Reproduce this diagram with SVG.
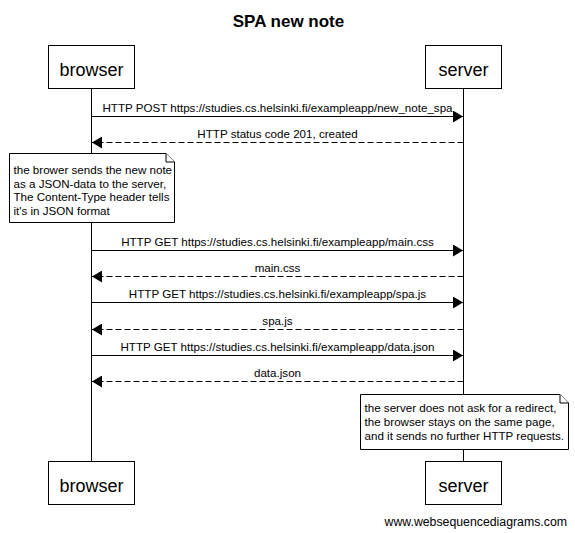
<svg xmlns="http://www.w3.org/2000/svg" width="575" height="533" viewBox="0 0 575 533">
<style>
text{font-family:"Liberation Sans",Arial,sans-serif;fill:#000}
.title{font-size:17px;font-weight:bold;text-anchor:middle}
.part{font-size:18px;text-anchor:middle}
.msg{font-size:11.6px;text-anchor:middle}
.note{font-size:11.6px}
.box{fill:#fff;stroke:#000;stroke-width:1}
.life{stroke:#000;stroke-width:1;fill:none}
.sol{stroke:#000;stroke-width:1;fill:none}
.dash{stroke:#000;stroke-width:1;fill:none;stroke-dasharray:6,3}
.wm{font-size:12.3px;text-anchor:end}
</style>
<defs>
<marker id="ah" viewBox="0 0 10 12" refX="10" refY="6" markerWidth="10" markerHeight="12" markerUnits="userSpaceOnUse" orient="auto">
<path d="M0,0 L10,6 L0,12 z" fill="#000"/>
</marker>
</defs>
<rect width="575" height="533" fill="#fff"/>
<text class="title" x="288.5" y="27">SPA new note</text>
<g id="lifelines">
<line class="life" x1="91.5" y1="89" x2="91.5" y2="461"/>
<line class="life" x1="463.5" y1="89" x2="463.5" y2="461"/>
</g>
<g id="browser-top"><rect class="box" x="48.5" y="45.5" width="86" height="43"/><text class="part" x="91.5" y="76">browser</text></g>
<g id="server-top"><rect class="box" x="425.5" y="45.5" width="76" height="43"/><text class="part" x="463.5" y="76">server</text></g>
<g id="browser-bottom"><rect class="box" x="48.5" y="461.5" width="86" height="43"/><text class="part" x="91.5" y="492">browser</text></g>
<g id="server-bottom"><rect class="box" x="425.5" y="461.5" width="76" height="43"/><text class="part" x="463.5" y="492">server</text></g>
<g id="connectors">
<line class="sol" x1="91.5" y1="116.5" x2="463" y2="116.5" marker-end="url(#ah)"/>
<text class="msg" x="277.5" y="112">HTTP POST https://studies.cs.helsinki.fi/exampleapp/new_note_spa</text>
<line class="dash" x1="463.5" y1="142.5" x2="92" y2="142.5" marker-end="url(#ah)"/>
<text class="msg" x="277.5" y="138">HTTP status code 201, created</text>
<line class="sol" x1="91.5" y1="250.5" x2="463" y2="250.5" marker-end="url(#ah)"/>
<text class="msg" x="277.5" y="246">HTTP GET https://studies.cs.helsinki.fi/exampleapp/main.css</text>
<line class="dash" x1="463.5" y1="276.5" x2="92" y2="276.5" marker-end="url(#ah)"/>
<text class="msg" x="277.5" y="272">main.css</text>
<line class="sol" x1="91.5" y1="302.5" x2="463" y2="302.5" marker-end="url(#ah)"/>
<text class="msg" x="277.5" y="298">HTTP GET https://studies.cs.helsinki.fi/exampleapp/spa.js</text>
<line class="dash" x1="463.5" y1="329.5" x2="92" y2="329.5" marker-end="url(#ah)"/>
<text class="msg" x="277.5" y="325">spa.js</text>
<line class="sol" x1="91.5" y1="355.5" x2="463" y2="355.5" marker-end="url(#ah)"/>
<text class="msg" x="277.5" y="351">HTTP GET https://studies.cs.helsinki.fi/exampleapp/data.json</text>
<line class="dash" x1="463.5" y1="381.5" x2="92" y2="381.5" marker-end="url(#ah)"/>
<text class="msg" x="277.5" y="377">data.json</text>
</g>
<g id="note1">
<path class="box" d="M9.5,153.5 H166 L174.5,162 V222.5 H9.5 Z"/>
<path class="box" d="M166,153.5 V162 H174.5" fill="none"/>
<text class="note" x="13.5" y="174">the brower sends the new note</text>
<text class="note" x="13.5" y="187.5">as a JSON-data to the server,</text>
<text class="note" x="13.5" y="201">The Content-Type header tells</text>
<text class="note" x="13.5" y="214.5">it's in JSON format</text>
</g>
<g id="note2">
<path class="box" d="M360.5,394.5 H560 L568.5,403 V449.5 H360.5 Z"/>
<path class="box" d="M560,394.5 V403 H568.5" fill="none"/>
<text class="note" x="364.5" y="412">the server does not ask for a redirect,</text>
<text class="note" x="364.5" y="426">the browser stays on the same page,</text>
<text class="note" x="364.5" y="440">and it sends no further HTTP requests.</text>
</g>
<text class="wm" x="567" y="526">www.websequencediagrams.com</text>
</svg>
